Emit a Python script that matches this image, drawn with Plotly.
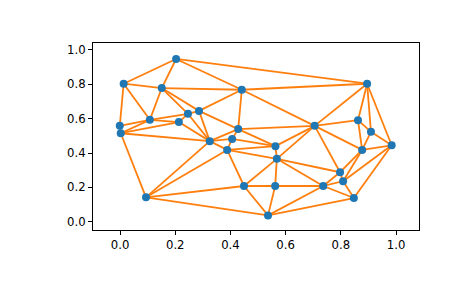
import plotly.graph_objects as go

# Point coordinates
x = [0.203, 0.013, 0.151, 0.246, 0.286, 0.108, -0.001, 0.0025, 0.213, 0.325,
     0.441, 0.428, 0.406, 0.388, 0.563, 0.568, 0.705, 0.895, 0.862, 0.909,
     0.984, 0.877, 0.449, 0.562, 0.736, 0.536, 0.797, 0.808, 0.847, 0.094]
y = [0.947, 0.803, 0.778, 0.628, 0.645, 0.593, 0.558, 0.515, 0.580, 0.469,
     0.768, 0.539, 0.482, 0.418, 0.440, 0.366, 0.558, 0.803, 0.591, 0.523,
     0.445, 0.418, 0.208, 0.208, 0.208, 0.037, 0.288, 0.236, 0.138, 0.142]

tick_vals = [0.0, 0.2, 0.4, 0.6, 0.8, 1.0]
tick_text = ["0.0", "0.2", "0.4", "0.6", "0.8", "1.0"]


def delaunay(px, py):
    n = len(px)
    minx, maxx, miny, maxy = min(px), max(px), min(py), max(py)
    d = max(maxx - minx, maxy - miny) * 20
    cx, cy = (minx + maxx) / 2, (miny + maxy) / 2
    X = list(px) + [cx - d, cx + d, cx]
    Y = list(py) + [cy - d, cy - d, cy + d]
    tris = [(n, n + 1, n + 2)]

    def circ(t):
        a, b, c = t
        ax, ay, bx, by, cxx, cyy = X[a], Y[a], X[b], Y[b], X[c], Y[c]
        dd = 2 * (ax * (by - cyy) + bx * (cyy - ay) + cxx * (ay - by))
        ux = ((ax**2 + ay**2) * (by - cyy) + (bx**2 + by**2) * (cyy - ay) + (cxx**2 + cyy**2) * (ay - by)) / dd
        uy = ((ax**2 + ay**2) * (cxx - bx) + (bx**2 + by**2) * (ax - cxx) + (cxx**2 + cyy**2) * (bx - ax)) / dd
        return ux, uy, (ax - ux) ** 2 + (ay - uy) ** 2

    for i in range(n):
        bad = []
        for t in tris:
            ux, uy, r2 = circ(t)
            if (X[i] - ux) ** 2 + (Y[i] - uy) ** 2 < r2:
                bad.append(t)
        cnt = {}
        for t in bad:
            for e in ((t[0], t[1]), (t[1], t[2]), (t[2], t[0])):
                k = tuple(sorted(e))
                cnt[k] = cnt.get(k, 0) + 1
        tris = [t for t in tris if t not in bad]
        for e, c in cnt.items():
            if c == 1:
                tris.append((e[0], e[1], i))
    tris = [t for t in tris if max(t) < n]
    edges = set()
    for t in tris:
        for e in ((t[0], t[1]), (t[1], t[2]), (t[2], t[0])):
            edges.add(tuple(sorted(e)))
    return sorted(edges)


edges = delaunay(x, y)
lx, ly = [], []
for a, b in edges:
    lx += [x[a], x[b], None]
    ly += [y[a], y[b], None]

fig = go.Figure()
fig.add_trace(go.Scatter(x=lx, y=ly, mode="lines",
                         line=dict(color="#ff7f0e", width=1.8),
                         hoverinfo="skip", showlegend=False))
fig.add_trace(go.Scatter(x=x, y=y, mode="markers",
                         marker=dict(color="#1f77b4", size=8, line=dict(width=0)),
                         showlegend=False))

axis_common = dict(showline=True, mirror=True, linecolor="black", linewidth=1,
                   ticks="outside", ticklen=4, tickwidth=1, tickcolor="black",
                   showgrid=False, zeroline=False,
                   tickfont=dict(family="DejaVu Sans", size=11.7, color="black"))

fig.update_layout(
    width=465, height=288,
    margin=dict(l=93, r=46, t=43, b=58),
    paper_bgcolor="white", plot_bgcolor="white",
    xaxis=dict(range=[-0.098, 1.083], tickvals=tick_vals, ticktext=tick_text, **axis_common),
    yaxis=dict(range=[-0.048, 1.040], tickvals=tick_vals, ticktext=tick_text, **axis_common),
)

fig.write_html("out.html")
